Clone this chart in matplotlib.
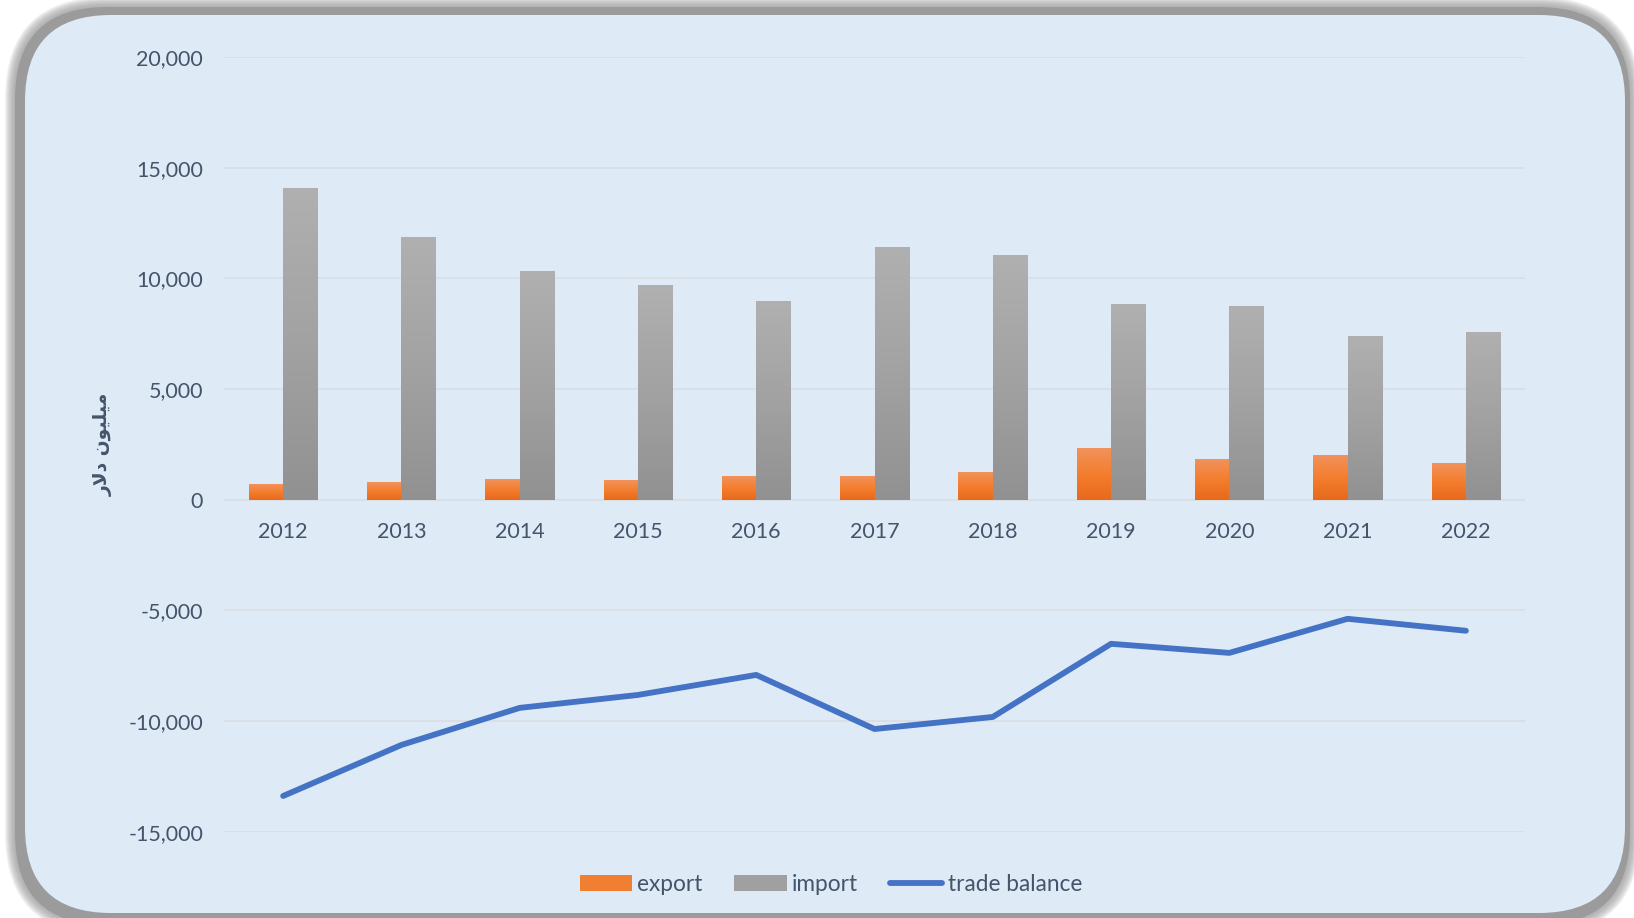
import matplotlib
matplotlib.use("Agg")
import matplotlib.pyplot as plt
import numpy as np
from matplotlib.patches import FancyBboxPatch
from matplotlib.colors import LinearSegmentedColormap
from matplotlib.ticker import FuncFormatter, MultipleLocator

plt.rcParams["font.family"] = ["Lato", "DejaVu Sans"]

years = ["2012", "2013", "2014", "2015", "2016", "2017", "2018", "2019", "2020", "2021", "2022"]
export = [680, 770, 905, 860, 1040, 1040, 1220, 2310, 1810, 1990, 1630]
imports = [14070, 11855, 10315, 9685, 8960, 11405, 11040, 8825, 8735, 7375, 7555]
balance = [-13390, -11085, -9410, -8825, -7920, -10365, -9820, -6515, -6925, -5385, -5925]

W, H = 1634, 918
text_col = "#44546A"
bg_col = "#DEEAF6"

fig = plt.figure(figsize=(W / 100, H / 100), dpi=100)
fig.patch.set_facecolor("white")

# rounded frame with a soft gray shadow, drawn in pixel units
bg = fig.add_axes([0, 0, 1, 1])
bg.set_xlim(0, W)
bg.set_ylim(H, 0)
bg.axis("off")
for k in range(10, 0, -1):
    bg.add_patch(FancyBboxPatch((15 - k, 7 - k), 1630 - 15 + 2 * k, 925 - 7 + 2 * k,
                                boxstyle="round,pad=0,rounding_size=%d" % (92 + k),
                                fc="#9B9B9B", ec="none", alpha=0.12))
bg.add_patch(FancyBboxPatch((15, 7), 1630 - 15, 925 - 7, boxstyle="round,pad=0,rounding_size=92",
                            fc="#9B9B9B", ec="none"))
bg.add_patch(FancyBboxPatch((25, 15), 1600, 898, boxstyle="round,pad=0,rounding_size=86",
                            fc=bg_col, ec="none"))

ax = fig.add_axes([224 / W, 1 - 831.6 / H, (1525 - 224) / W, (831.6 - 57) / H])
ax.patch.set_alpha(0)

x = np.arange(len(years))
bw = 0.29
b1 = ax.bar(x - bw / 2, export, bw, color="#F07F33", label="export", zorder=2)
b2 = ax.bar(x + bw / 2, imports, bw, color="#A0A0A0", label="import", zorder=2)

# vertical gradients on the bars
cm_or = LinearSegmentedColormap.from_list("or", ["#E8691B", "#F47E2E", "#F1925C"])
cm_gr = LinearSegmentedColormap.from_list("gr", ["#919191", "#A2A2A2", "#B0B0B0"])
grad = np.linspace(0, 1, 256).reshape(-1, 1)
for bars, cm in [(b1, cm_or), (b2, cm_gr)]:
    for p in bars:
        x0, y0 = p.get_x(), p.get_y()
        ax.imshow(grad, cmap=cm, origin="lower", aspect="auto", zorder=2.5,
                  extent=(x0, x0 + p.get_width(), y0, y0 + p.get_height()))

ax.plot(x, balance, color="#4472C4", lw=4.2, solid_capstyle="round",
        solid_joinstyle="round", label="trade balance", zorder=3)

ax.set_xlim(-0.5, len(years) - 0.5)
ax.set_ylim(-15000, 20000)
ax.yaxis.set_major_locator(MultipleLocator(5000))
ax.yaxis.set_major_formatter(FuncFormatter(lambda v, _: f"{v:,.0f}"))
ax.grid(axis="y", color="#D9DEE4", lw=1.3, zorder=0)
ax.set_axisbelow(True)
for s in ax.spines.values():
    s.set_visible(False)
ax.spines["bottom"].set_position(("data", 0))

ax.set_xticks(x)
ax.set_xticklabels(years)
ax.tick_params(axis="both", length=0, labelsize=15.5, labelcolor=text_col)
ax.tick_params(axis="y", pad=15)
ax.tick_params(axis="x", pad=16)

# Persian label "میلیون دلار" in presentation forms, visual order
ax.set_ylabel("\uFEAD\uFEFB\uFEA9 \uFEE5\uFEEE\uFEF4\uFEE0\uFEF4\uFEE3", family=["DejaVu Sans"],
              fontsize=13.5, fontweight="bold", color=text_col, labelpad=11)

leg = fig.legend(handles=[b1, b2, ax.lines[0]], labels=["export", "import", "trade balance"],
                 loc="center", bbox_to_anchor=(0.5085, 0.037), ncol=3, frameon=False,
                 fontsize=16.3, handlelength=2.3, handletextpad=0.25, columnspacing=1.4)
for t in leg.get_texts():
    t.set_color(text_col)

fig.savefig("out.png", dpi=100, facecolor=fig.get_facecolor())
